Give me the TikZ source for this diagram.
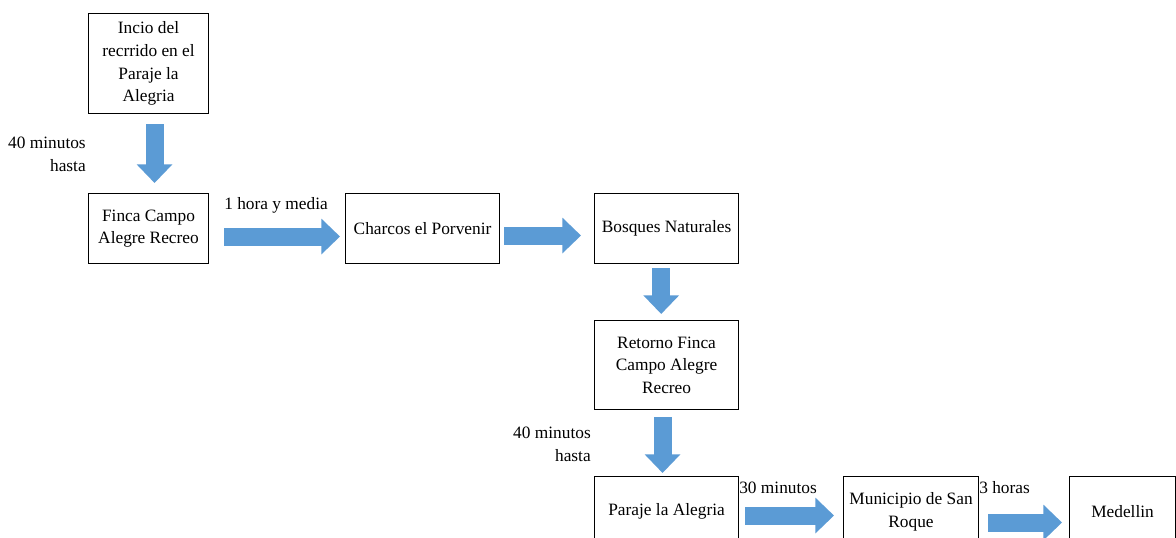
\documentclass[tikz,border=0pt]{standalone}
\usepackage{fontspec}
\setmainfont{Liberation Serif}
\usetikzlibrary{arrows.meta}
\definecolor{arrowblue}{HTML}{5B9BD5}
\begin{document}
\begin{tikzpicture}[x=0.75pt,y=-0.75pt,
  box/.style={draw=black, line width=0.8pt, anchor=north west, align=center, inner sep=0pt, font=\fontsize{13}{17}\selectfont},
  lbl/.style={inner sep=0pt, font=\fontsize{13}{17}\selectfont},
  barrow/.style={draw=arrowblue, line width=13.5pt, -{Triangle[width=26pt,length=14pt]}}]
\clip (0,0) rectangle (1176,538);
\useasboundingbox (0,0) rectangle (1176,538);
\fill[white] (0,0) rectangle (1176,538);

\node[box, minimum width=90pt, minimum height=75pt] (b1) at (88,13) {Incio del\\recrrido en el\\Paraje la\\Alegria};
\node[box, minimum width=90pt, minimum height=52.5pt] (b2) at (88,193) {Finca Campo\\Alegre Recreo};
\node[box, minimum width=115.5pt, minimum height=52.5pt] (b3) at (345,193) {Charcos el Porvenir};
\node[box, minimum width=108pt, minimum height=52.5pt] (b4) at (594,193) {Bosques Naturales};
\node[box, minimum width=108pt, minimum height=66.75pt] (b5) at (594,320) {Retorno Finca\\Campo Alegre\\Recreo};
\node[box, minimum width=108pt, minimum height=52.5pt] (b6) at (594,476) {Paraje la Alegria};
\node[box, minimum width=101.25pt, minimum height=52.5pt] (b7) at (843,476) {Municipio de San\\Roque};
\node[box, minimum width=79.5pt, minimum height=52.5pt] (b8) at (1069,476) {Medellin};

\draw[barrow, shorten <=7.5pt, shorten >=7.5pt] ([xshift=4.5pt]b1.south) -- ([xshift=4.5pt]b2.north);
\draw[barrow, shorten <=11.25pt, shorten >=3.75pt] ([yshift=-6pt]b2.east) -- ([yshift=-6pt]b3.west);
\draw[barrow, shorten <=3pt, shorten >=9.75pt] ([yshift=-5.25pt]b3.east) -- ([yshift=-5.25pt]b4.west);
\draw[barrow, shorten <=3pt, shorten >=4.5pt] ([xshift=-4pt]b4.south) -- ([xshift=-4pt]b5.north);
\draw[barrow, shorten <=5.25pt, shorten >=2.25pt] ([xshift=-3pt]b5.south) -- ([xshift=-3pt]b6.north);
\draw[barrow, shorten <=4.5pt, shorten >=6.75pt] ([yshift=-3pt]b6.east) -- ([yshift=-3pt]b7.west);
\draw[barrow, shorten <=6.75pt, shorten >=5.25pt] ([yshift=-8.25pt]b7.east) -- ([yshift=-8.25pt]b8.west);

\node[lbl, anchor=east, align=right] (l1) at (86,154) {40 minutos\\hasta};
\node[lbl, anchor=west] (l2) at (224,205) {1 hora y media};
\node[lbl, anchor=east, align=right] (l3) at (591,444) {40 minutos\\hasta};
\node[lbl, anchor=west] (l4) at (739,488) {30 minutos};
\node[lbl, anchor=west] (l5) at (979,488) {3 horas};
\end{tikzpicture}
\end{document}
